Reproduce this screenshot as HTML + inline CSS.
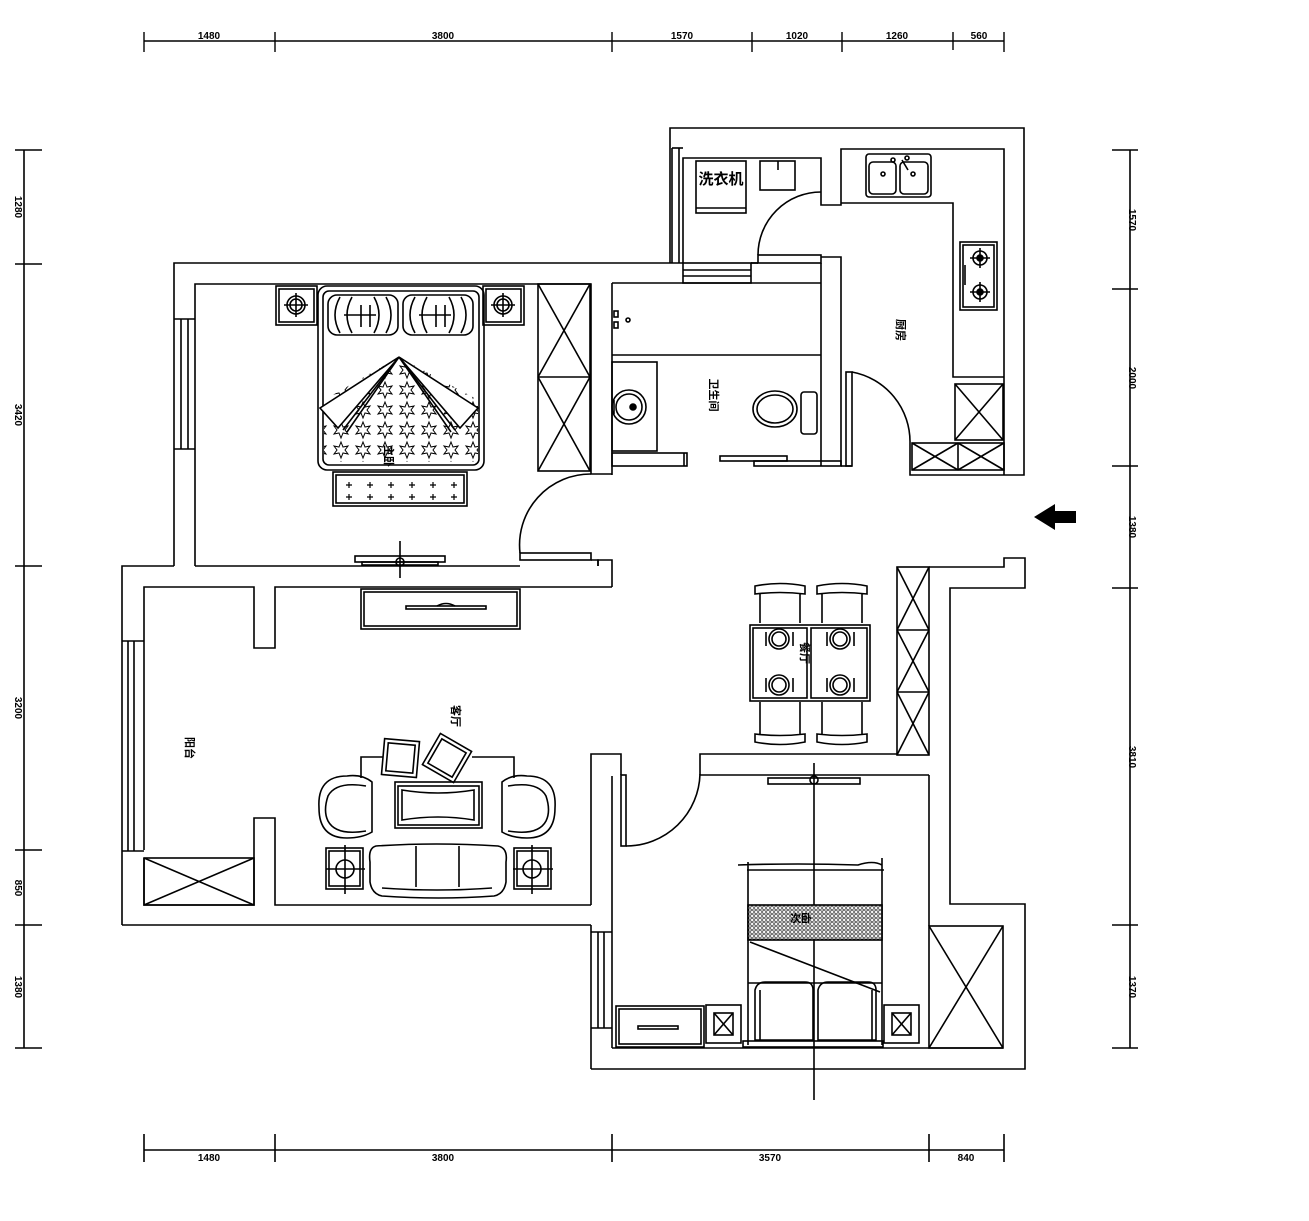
<!DOCTYPE html>
<html><head><meta charset="utf-8"><style>
html,body{margin:0;padding:0;background:#fff;}
svg{display:block;}
text{font-family:"Liberation Sans","Noto Sans CJK SC",sans-serif;font-weight:bold;fill:#000;}
</style></head><body>
<svg width="1309" height="1221" viewBox="0 0 1309 1221" xmlns="http://www.w3.org/2000/svg">
<defs>
<pattern id="stars" width="22" height="20" patternUnits="userSpaceOnUse">
<polygon points="11,2 13,7 18,6 15,10 18,14 13,13 11,18 9,13 4,14 7,10 4,6 9,7" fill="none" stroke="#000" stroke-width="1"/>
</pattern>
<pattern id="dots" width="4" height="4" patternUnits="userSpaceOnUse">
<rect width="4" height="4" fill="#fff"/><circle cx="2" cy="2" r="1.3" fill="none" stroke="#000" stroke-width="0.7"/>
</pattern>
</defs>
<g stroke="#000" stroke-width="1.6" fill="none">
<!-- top dims -->
<line x1="144" y1="41" x2="1004" y2="41"/>
<g stroke-width="1.4">
<line x1="144" y1="32" x2="144" y2="52"/><line x1="275" y1="32" x2="275" y2="52"/><line x1="612" y1="32" x2="612" y2="52"/><line x1="752" y1="32" x2="752" y2="52"/><line x1="842" y1="32" x2="842" y2="52"/><line x1="953" y1="32" x2="953" y2="50"/><line x1="1004" y1="32" x2="1004" y2="52"/>
</g>
<!-- bottom dims -->
<line x1="144" y1="1150" x2="1004" y2="1150"/>
<line x1="144" y1="1134" x2="144" y2="1162"/><line x1="275" y1="1134" x2="275" y2="1162"/><line x1="612" y1="1134" x2="612" y2="1162"/><line x1="929" y1="1134" x2="929" y2="1162"/><line x1="1004" y1="1134" x2="1004" y2="1162"/>
<!-- left dims -->
<line x1="24" y1="150" x2="24" y2="1048"/>
<line x1="15" y1="150" x2="42" y2="150"/><line x1="15" y1="264" x2="42" y2="264"/><line x1="15" y1="566" x2="42" y2="566"/><line x1="15" y1="850" x2="42" y2="850"/><line x1="15" y1="925" x2="42" y2="925"/><line x1="15" y1="1048" x2="42" y2="1048"/>
<!-- right dims -->
<line x1="1130" y1="150" x2="1130" y2="1048"/>
<line x1="1112" y1="150" x2="1138" y2="150"/><line x1="1112" y1="289" x2="1138" y2="289"/><line x1="1112" y1="466" x2="1138" y2="466"/><line x1="1112" y1="588" x2="1138" y2="588"/><line x1="1112" y1="925" x2="1138" y2="925"/><line x1="1112" y1="1048" x2="1138" y2="1048"/>

<!-- ===== WALLS ===== -->
<!-- bedroom1 + storage outer -->
<polyline points="174,566 174,263 683,263"/>
<polyline points="751,263 758,263"/>
<polyline points="670,263 670,128 1024,128 1024,475 1004,475"/>
<!-- bedroom1 inner -->
<polyline points="195,566 195,284 591,284 591,474 612,474"/>
<line x1="612" y1="283" x2="612" y2="475"/>
<!-- window bedroom1 -->
<line x1="181" y1="319" x2="181" y2="449"/><line x1="188" y1="319" x2="188" y2="449"/>
<line x1="174" y1="319" x2="195" y2="319"/><line x1="174" y1="449" x2="195" y2="449"/>
<!-- storage room inner -->
<polyline points="683,263 683,158 821,158 821,205 841,205 841,149 1004,149 1004,475"/>
<line x1="672" y1="148" x2="672" y2="263"/><line x1="679" y1="148" x2="679" y2="263"/><line x1="672" y1="148" x2="683" y2="148"/>
<!-- window between bedroom and storage -->
<rect x="683" y="263" width="68" height="20"/><line x1="683" y1="270" x2="751" y2="270"/><line x1="683" y1="276" x2="751" y2="276"/>
<!-- storage door -->
<rect x="758" y="255" width="63" height="8"/>
<path d="M758,255 A63,63 0 0 1 821,192"/>
<polyline points="751,263 758,263"/>
<polyline points="821,257 841,257 841,466"/>
<line x1="821" y1="263" x2="821" y2="466"/>
<!-- bathroom inner -->
<line x1="612" y1="283" x2="821" y2="283"/>
<line x1="612" y1="355" x2="821" y2="355"/>
<rect x="612" y="362" width="45" height="89"/>
<rect x="612" y="453" width="75" height="13"/><line x1="684" y1="453" x2="684" y2="466"/>
<rect x="720" y="456" width="67" height="5"/>
<rect x="754" y="461" width="87" height="5"/>
<!-- kitchen counter -->
<polyline points="841,203 953,203 953,377 1004,377"/>
<!-- kitchen door -->
<rect x="846" y="372" width="6" height="94"/>
<line x1="841" y1="466" x2="852" y2="466"/>
<path d="M852,372 A71,71 0 0 1 910,443"/>
<rect x="912" y="443" width="92" height="27"/>
<line x1="958" y1="443" x2="958" y2="470"/>
<line x1="912" y1="443" x2="958" y2="470"/><line x1="958" y1="443" x2="912" y2="470"/>
<line x1="958" y1="443" x2="1004" y2="470"/><line x1="1004" y1="443" x2="958" y2="470"/>
<polyline points="910,443 910,475 1004,475"/>
<!-- fridge -->
<rect x="955" y="384" width="48" height="56"/><line x1="955" y1="384" x2="1003" y2="440"/><line x1="1003" y1="384" x2="955" y2="440"/>
<!-- kitchen sink -->
<rect x="866" y="154" width="65" height="43" rx="3"/>
<rect x="869" y="162" width="27" height="32" rx="4"/><rect x="900" y="162" width="28" height="32" rx="4"/>
<circle cx="883" cy="174" r="2"/><circle cx="913" cy="174" r="2"/>
<line x1="902" y1="160" x2="908" y2="170"/><circle cx="893" cy="160" r="2"/><circle cx="907" cy="158" r="2"/>
<!-- stove -->
<rect x="960" y="242" width="37" height="68"/><rect x="963" y="245" width="31" height="62"/>
<circle cx="980" cy="258" r="7"/><circle cx="980" cy="258" r="3" fill="#000"/>
<circle cx="980" cy="292" r="7"/><circle cx="980" cy="292" r="3" fill="#000"/>
<line x1="970" y1="258" x2="990" y2="258"/><line x1="980" y1="248" x2="980" y2="268"/>
<line x1="970" y1="292" x2="990" y2="292"/><line x1="980" y1="282" x2="980" y2="302"/>
<line x1="965" y1="265" x2="965" y2="285"/>
<!-- storage washer & sink -->
<rect x="696" y="161" width="50" height="52"/><line x1="696" y1="208" x2="746" y2="208"/>
<rect x="760" y="161" width="35" height="29"/><line x1="778" y1="161" x2="778" y2="170"/>
<!-- bath sink & toilet -->
<circle cx="629" cy="407" r="17"/><circle cx="629" cy="407" r="13"/><circle cx="633" cy="407" r="3" fill="#000"/>
<line x1="614" y1="400" x2="614" y2="414"/>
<ellipse cx="775" cy="409" rx="22" ry="18"/><ellipse cx="775" cy="409" rx="18" ry="14"/>
<rect x="801" y="392" width="16" height="42" rx="3"/>
<rect x="614" y="311" width="4" height="6"/><rect x="614" y="322" width="4" height="6"/><circle cx="628" cy="320" r="2"/>

<!-- bedroom1 bottom wall and door -->
<line x1="195" y1="566" x2="520" y2="566"/>
<rect x="520" y="553" width="71" height="7"/>
<polyline points="591,560 598,560 598,566"/>
<path d="M520,553 A71,71 0 0 1 591,474"/>
<polyline points="122,925 122,566 174,566"/>
<polyline points="598,566 598,560 612,560 612,587"/>
<!-- living room -->
<polyline points="144,850 144,587 254,587 254,648 275,648 275,587 612,587"/>
<polyline points="144,858 144,905 254,905 254,818 275,818 275,905 591,905"/>
<line x1="122" y1="925" x2="591" y2="925"/>
<!-- living window -->
<line x1="122" y1="641" x2="144" y2="641"/><line x1="128" y1="641" x2="128" y2="851"/><line x1="134" y1="641" x2="134" y2="851"/>
<line x1="122" y1="851" x2="144" y2="851"/>
<!-- balcony storage -->
<rect x="144" y="858" width="110" height="47"/><line x1="144" y1="858" x2="254" y2="905"/><line x1="254" y1="858" x2="144" y2="905"/>
<!-- bedroom2 walls -->
<polyline points="591,905 591,754 621,754 621,775"/>
<line x1="591" y1="925" x2="591" y2="1069"/>
<line x1="612" y1="776" x2="612" y2="1048"/>
<rect x="621" y="775" width="5" height="71"/>
<path d="M626,846 A74,74 0 0 0 700,774"/>
<polyline points="700,775 700,754 897,754"/>
<line x1="700" y1="775" x2="929" y2="775"/>
<line x1="929" y1="775" x2="929" y2="926"/>
<polyline points="591,1069 1025,1069 1025,904 950,904 950,588 1025,588 1025,558 1004,558 1004,567 929,567"/>
<line x1="612" y1="1048" x2="1003" y2="1048"/>
<rect x="929" y="926" width="74" height="122"/><line x1="929" y1="926" x2="1003" y2="1048"/><line x1="1003" y1="926" x2="929" y2="1048"/>
<!-- bedroom2 window -->
<line x1="591" y1="932" x2="612" y2="932"/><line x1="598" y1="932" x2="598" y2="1028"/><line x1="604" y1="932" x2="604" y2="1028"/><line x1="591" y1="1028" x2="612" y2="1028"/>
<!-- dining wardrobe -->
<rect x="897" y="567" width="32" height="188"/>
<line x1="897" y1="630" x2="929" y2="630"/><line x1="897" y1="692" x2="929" y2="692"/>
<line x1="897" y1="567" x2="929" y2="630"/><line x1="929" y1="567" x2="897" y2="630"/>
<line x1="897" y1="630" x2="929" y2="692"/><line x1="929" y1="630" x2="897" y2="692"/>
<line x1="897" y1="692" x2="929" y2="755"/><line x1="929" y1="692" x2="897" y2="755"/>

<!-- ===== bedroom1 furniture ===== -->
<rect x="538" y="284" width="52" height="187"/><line x1="538" y1="377" x2="590" y2="377"/>
<line x1="538" y1="284" x2="590" y2="377"/><line x1="590" y1="284" x2="538" y2="377"/>
<line x1="538" y1="377" x2="590" y2="471"/><line x1="590" y1="377" x2="538" y2="471"/>
<rect x="276" y="286" width="41" height="39"/><rect x="279" y="289" width="35" height="33"/>
<circle cx="296" cy="305" r="9"/><circle cx="296" cy="305" r="6"/><line x1="284" y1="305" x2="308" y2="305"/><line x1="296" y1="293" x2="296" y2="317"/>
<rect x="483" y="286" width="41" height="39"/><rect x="486" y="289" width="35" height="33"/>
<circle cx="503" cy="305" r="9"/><circle cx="503" cy="305" r="6"/><line x1="491" y1="305" x2="515" y2="305"/><line x1="503" y1="293" x2="503" y2="317"/>
<rect x="318" y="286" width="166" height="184" rx="9"/>
<rect x="323" y="291" width="156" height="174" rx="6"/>
<rect x="328" y="295" width="70" height="40" rx="9"/><rect x="403" y="295" width="70" height="40" rx="9"/>
<path d="M340,297 q-10,18 0,36 M352,297 q-10,18 0,36 M386,297 q10,18 0,36 M374,297 q10,18 0,36 M361,305 v22 M370,305 v22 M344,315 h32"/>
<path d="M415,297 q-10,18 0,36 M427,297 q-10,18 0,36 M461,297 q10,18 0,36 M449,297 q10,18 0,36 M436,305 v22 M445,305 v22 M419,315 h32"/>
<path d="M324,400 L399,357 L478,400 L478,462 L324,462 Z" fill="url(#stars)" stroke="none"/>
<polygon points="399,357 320,408 338,428" fill="#fff"/>
<polygon points="399,357 478,408 460,428" fill="#fff"/>
<line x1="399" y1="357" x2="343" y2="430"/><line x1="399" y1="357" x2="347" y2="432"/>
<line x1="399" y1="357" x2="455" y2="430"/><line x1="399" y1="357" x2="451" y2="432"/>
<rect x="333" y="472" width="134" height="34"/><rect x="336" y="475" width="128" height="28"/>
<g stroke-width="1.2">
<path d="M349,482 v6 M346,485 h6 M370,482 v6 M367,485 h6 M391,482 v6 M388,485 h6 M412,482 v6 M409,485 h6 M433,482 v6 M430,485 h6 M454,482 v6 M451,485 h6"/>
<path d="M349,494 v6 M346,497 h6 M370,494 v6 M367,497 h6 M391,494 v6 M388,497 h6 M412,494 v6 M409,497 h6 M433,494 v6 M430,497 h6 M454,494 v6 M451,497 h6"/>
</g>
<rect x="355" y="556" width="90" height="6"/><rect x="362" y="562" width="76" height="3"/>
<circle cx="400" cy="562" r="4"/><line x1="400" y1="541" x2="400" y2="578"/>

<!-- ===== living furniture ===== -->
<rect x="361" y="589" width="159" height="40"/><rect x="364" y="592" width="153" height="34"/>
<rect x="406" y="606" width="80" height="3"/><path d="M437,606 q9,-5 18,0"/>
<polyline points="361,778 361,757 383,757"/><polyline points="472,757 514,757 514,778"/>
<rect x="395" y="782" width="87" height="46"/><rect x="398" y="786" width="81" height="39"/>
<path d="M402,790 q36,6 72,0 v30 q-36,-6 -72,0 z"/>
<g transform="rotate(5 400 758)"><rect x="383" y="740" width="35" height="36"/><rect x="387" y="744" width="27" height="28"/></g>
<g transform="rotate(30 447 758)"><rect x="429" y="740" width="36" height="36"/><rect x="433" y="744" width="28" height="28"/></g>
<path d="M372,782 q-10,-8 -25,-6 q-30,0 -28,32 q0,30 28,30 q15,0 25,-6 v-50 z"/>
<path d="M366,786 q-30,-5 -38,10 q-5,15 0,25 q8,15 38,10"/>
<path d="M502,782 q10,-8 25,-6 q30,0 28,32 q0,30 -28,30 q-15,0 -25,-6 v-50 z"/>
<path d="M508,786 q30,-5 38,10 q5,15 0,25 q-8,15 -38,10"/>
<path d="M376,846 q60,-4 122,0 q10,2 8,16 v20 q-2,12 -12,14 q-55,4 -112,0 q-10,-2 -12,-14 v-20 q-2,-14 6,-16 z"/>
<path d="M382,888 q55,4 110,0"/>
<line x1="416" y1="846" x2="416" y2="887"/><line x1="459" y1="846" x2="459" y2="887"/>
<rect x="326" y="848" width="37" height="41"/><rect x="329" y="851" width="31" height="35"/>
<circle cx="345" cy="869" r="9"/><line x1="326" y1="869" x2="365" y2="869"/><line x1="345" y1="845" x2="345" y2="894"/>
<rect x="514" y="848" width="37" height="41"/><rect x="517" y="851" width="31" height="35"/>
<circle cx="532" cy="869" r="9"/><line x1="513" y1="869" x2="553" y2="869"/><line x1="532" y1="845" x2="532" y2="894"/>

<!-- ===== dining ===== -->
<rect x="750" y="625" width="120" height="76"/><rect x="753" y="628" width="54" height="70"/><rect x="811" y="628" width="56" height="70"/>
<path d="M755,586 q25,-5 50,0 v8 q-25,-3 -50,0 z M760,594 v29 M800,594 v29"/>
<path d="M817,586 q25,-5 50,0 v8 q-25,-3 -50,0 z M822,594 v29 M862,594 v29"/>
<path d="M755,742 q25,5 50,0 v-8 q-25,3 -50,0 z M760,734 v-32 M800,734 v-32"/>
<path d="M817,742 q25,5 50,0 v-8 q-25,3 -50,0 z M822,734 v-32 M862,734 v-32"/>
<circle cx="779" cy="639" r="10"/><circle cx="779" cy="639" r="7"/><line x1="766" y1="632" x2="766" y2="646"/><line x1="793" y1="632" x2="793" y2="646"/>
<circle cx="840" cy="639" r="10"/><circle cx="840" cy="639" r="7"/><line x1="827" y1="632" x2="827" y2="646"/><line x1="854" y1="632" x2="854" y2="646"/>
<circle cx="779" cy="685" r="10"/><circle cx="779" cy="685" r="7"/><line x1="766" y1="678" x2="766" y2="692"/><line x1="793" y1="678" x2="793" y2="692"/>
<circle cx="840" cy="685" r="10"/><circle cx="840" cy="685" r="7"/><line x1="827" y1="678" x2="827" y2="692"/><line x1="854" y1="678" x2="854" y2="692"/>

<!-- ===== bedroom2 ===== -->
<rect x="768" y="778" width="92" height="6"/><circle cx="814" cy="780" r="4"/>
<line x1="814" y1="763" x2="814" y2="1100"/>
<path d="M738,865 q60,-2 120,0 q15,-5 24,0 v0 M748,862 V1045 M882,858 V1045"/>
<line x1="747" y1="870" x2="884" y2="870"/>
<rect x="748" y="905" width="134" height="35" fill="url(#dots)"/>
<line x1="750" y1="942" x2="880" y2="992"/>
<line x1="748" y1="983" x2="882" y2="983"/>
<path d="M755,990 q2,-8 10,-8 h40 q8,0 8,8 v50 h-58 z M760,990 v50"/>
<path d="M818,990 q2,-8 10,-8 h40 q8,0 8,8 v50 h-58 z M872,990 v50"/>
<rect x="743" y="1041" width="140" height="6"/>
<rect x="706" y="1005" width="35" height="38"/><rect x="714" y="1013" width="19" height="22"/><line x1="714" y1="1013" x2="733" y2="1035"/><line x1="733" y1="1013" x2="714" y2="1035"/>
<rect x="884" y="1005" width="35" height="38"/><rect x="892" y="1013" width="19" height="22"/><line x1="892" y1="1013" x2="911" y2="1035"/><line x1="911" y1="1013" x2="892" y2="1035"/>
<rect x="616" y="1006" width="88" height="41"/><rect x="619" y="1009" width="82" height="35"/><rect x="638" y="1026" width="40" height="3"/>
</g>
<!-- entrance arrow -->
<polygon points="1034,517 1055,504 1055,511 1076,511 1076,523 1055,523 1055,530" fill="#000"/>

<!-- dimension text -->
<g font-size="10">
<text x="209" y="39" text-anchor="middle">1480</text>
<text x="443" y="39" text-anchor="middle">3800</text>
<text x="682" y="39" text-anchor="middle">1570</text>
<text x="797" y="39" text-anchor="middle">1020</text>
<text x="897" y="39" text-anchor="middle">1260</text>
<text x="979" y="39" text-anchor="middle">560</text>
<text x="209" y="1161" text-anchor="middle">1480</text>
<text x="443" y="1161" text-anchor="middle">3800</text>
<text x="770" y="1161" text-anchor="middle">3570</text>
<text x="966" y="1161" text-anchor="middle">840</text>
<g transform="translate(15,207) rotate(90)"><text text-anchor="middle">1280</text></g>
<g transform="translate(15,415) rotate(90)"><text text-anchor="middle">3420</text></g>
<g transform="translate(15,708) rotate(90)"><text text-anchor="middle">3200</text></g>
<g transform="translate(15,888) rotate(90)"><text text-anchor="middle">850</text></g>
<g transform="translate(15,987) rotate(90)"><text text-anchor="middle">1380</text></g>
<g transform="translate(1129,220) rotate(90)"><text text-anchor="middle">1570</text></g>
<g transform="translate(1129,378) rotate(90)"><text text-anchor="middle">2000</text></g>
<g transform="translate(1129,527) rotate(90)"><text text-anchor="middle">1380</text></g>
<g transform="translate(1129,757) rotate(90)"><text text-anchor="middle">3810</text></g>
<g transform="translate(1129,987) rotate(90)"><text text-anchor="middle">1370</text></g>
</g>
<!-- room labels -->
<g font-size="11">
<g transform="translate(385,456) rotate(90)"><text text-anchor="middle">主卧</text></g>
<g transform="translate(710,395) rotate(90)"><text text-anchor="middle">卫生间</text></g>
<g transform="translate(897,330) rotate(90)"><text text-anchor="middle">厨房</text></g>
<g transform="translate(452,716) rotate(90)"><text text-anchor="middle">客厅</text></g>
<g transform="translate(186,748) rotate(90)"><text text-anchor="middle">阳台</text></g>
<g transform="translate(801,653) rotate(90)"><text text-anchor="middle">餐厅</text></g>
<text x="801" y="922" text-anchor="middle">次卧</text>
<text x="721" y="184" text-anchor="middle" font-size="15">洗衣机</text>
</g>
</svg>
</body></html>
